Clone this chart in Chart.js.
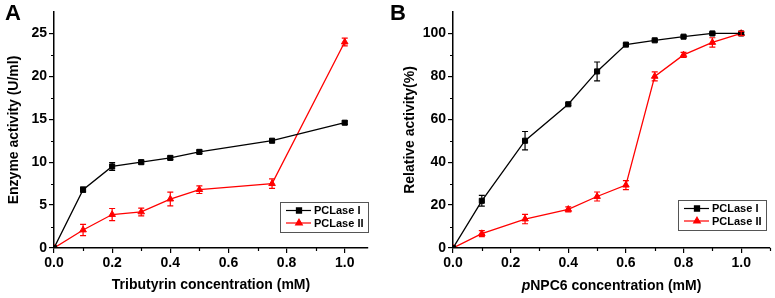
<!DOCTYPE html>
<html>
<head>
<meta charset="utf-8">
<script src="https://cdn.jsdelivr.net/npm/chart.js@4.4.1/dist/chart.umd.min.js"></script>
<style>
  body { margin: 0; background: #fff; }
  #wrap { position: relative; width: 775px; height: 298px; }
  .panel { position: absolute; top: 0; }
</style>
</head>
<body>
<div id="wrap">
  <div class="panel" style="left:0"><canvas id="chartA" width="387" height="298"></canvas></div>
  <div class="panel" style="left:387px"><canvas id="chartB" width="388" height="298"></canvas></div>
</div>
<script>
// ---- panel A: tributyrin ----
var concA = [0, 0.1, 0.2, 0.3, 0.4, 0.5, 0.75, 1.0];
var pclase1A = [0, 6.8, 9.5, 10.0, 10.5, 11.2, 12.5, 14.6];
var pclase1AErr = [0, 0.3, 0.45, 0.2, 0.2, 0.2, 0.15, 0.2];
var pclase2A = [0, 2.1, 3.9, 4.2, 5.7, 6.8, 7.5, 24.0];
var pclase2AErr = [0, 0.65, 0.7, 0.45, 0.8, 0.45, 0.55, 0.45];
var xTicksA = [0, 0.2, 0.4, 0.6, 0.8, 1.0];
var xMinorA = [0.1, 0.3, 0.5, 0.7, 0.9];
var yTicksA = [0, 5, 10, 15, 20, 25];
var yMinorA = [2.5, 7.5, 12.5, 17.5, 22.5];

// ---- panel B: pNPC6 ----
var concB = [0, 0.1, 0.25, 0.4, 0.5, 0.6, 0.7, 0.8, 0.9, 1.0];
var pclase1B = [0, 22, 50, 67, 82.3, 94.8, 96.8, 98.5, 100, 100];
var pclase1BErr = [0, 2.5, 4.3, 0.5, 4.4, 0.5, 0.5, 0.5, 0.5, 0.5];
var pclase2B = [0, 6.7, 13.5, 18, 24, 29.3, 80, 90, 95.8, 100];
var pclase2BErr = [0, 1.4, 2.2, 1.2, 2.1, 2.1, 2.1, 1.2, 2.2, 1.0];
var xTicksB = [0, 0.2, 0.4, 0.6, 0.8, 1.0];
var xMinorB = [0.1, 0.3, 0.5, 0.7, 0.9, 1.1];
var yTicksB = [0, 20, 40, 60, 80, 100];
var yMinorB = [10, 30, 50, 70, 90];

var seriesNames = ['PCLase I', 'PCLase II'];
var FONT = "'Liberation Sans', Arial, sans-serif";

// error bars, minor ticks, boxed legend, panel letter
var extras = {
  id: 'extras',
  afterDatasetsDraw: function(chart) {
    var ctx = chart.ctx;
    var ys = chart.scales.y;
    chart.data.datasets.forEach(function(ds, di) {
      var meta = chart.getDatasetMeta(di);
      ctx.save();
      ctx.strokeStyle = ds.borderColor;
      ctx.lineWidth = 1.2;
      meta.data.forEach(function(pt, i) {
        var e = ds.errors[i];
        if (!e) return;
        var v = ds.data[i].y;
        var top = ys.getPixelForValue(v + e);
        var bot = ys.getPixelForValue(v - e);
        ctx.beginPath();
        ctx.moveTo(pt.x, top); ctx.lineTo(pt.x, bot);
        ctx.moveTo(pt.x - 3, top); ctx.lineTo(pt.x + 3, top);
        ctx.moveTo(pt.x - 3, bot); ctx.lineTo(pt.x + 3, bot);
        ctx.stroke();
      });
      ctx.restore();
    });
  },
  afterDraw: function(chart, args, opts) {
    var ctx = chart.ctx;
    var area = chart.chartArea;
    var xs = chart.scales.x, ys = chart.scales.y;
    ctx.save();
    ctx.strokeStyle = '#000';
    ctx.lineWidth = 1.2;
    ctx.beginPath();
    opts.minorX.forEach(function(v) {
      var px = Math.round(xs.getPixelForValue(v)) + 0.5;
      ctx.moveTo(px, area.bottom); ctx.lineTo(px, area.bottom + 3);
    });
    opts.minorY.forEach(function(v) {
      var py = Math.round(ys.getPixelForValue(v)) + 0.5;
      ctx.moveTo(area.left - 3, py); ctx.lineTo(area.left, py);
    });
    ctx.stroke();

    // panel letter
    ctx.fillStyle = '#000';
    ctx.font = 'bold 22px ' + FONT;
    ctx.textBaseline = 'top';
    ctx.textAlign = 'left';
    ctx.fillText(opts.letter, opts.letterX, 3);

    // x title with optional italic prefix
    if (opts.xTitle) {
      var f1 = 'italic bold 14px ' + FONT, f2 = 'bold 14px ' + FONT;
      ctx.font = f1; var w1 = ctx.measureText(opts.xTitle[0]).width;
      ctx.font = f2; var w2 = ctx.measureText(opts.xTitle[1]).width;
      var x0 = (area.left + area.right) / 2 - (w1 + w2) / 2;
      ctx.textBaseline = 'middle';
      ctx.font = f1; ctx.fillText(opts.xTitle[0], x0, 286);
      ctx.font = f2; ctx.fillText(opts.xTitle[1], x0 + w1, 286);
    }

    // legend box
    var lg = opts.legend;
    var R = area.right - lg.right, B = area.bottom - lg.bottom;
    var L = R - 88, T = B - 30;
    ctx.lineWidth = 1;
    ctx.strokeStyle = '#555';
    ctx.fillStyle = '#fff';
    ctx.fillRect(L, T, 88, 30);
    ctx.strokeRect(L + 0.5, T + 0.5, 88, 30);
    ctx.font = 'bold 11px ' + FONT;
    ctx.textBaseline = 'middle';
    chart.data.datasets.forEach(function(ds, i) {
      var y = T + 8.5 + i * 12.5;
      ctx.strokeStyle = ds.borderColor;
      ctx.fillStyle = ds.backgroundColor;
      ctx.lineWidth = 1.2;
      ctx.beginPath(); ctx.moveTo(L + 6, y); ctx.lineTo(L + 31, y); ctx.stroke();
      Chart.helpers.drawPoint(ctx, { pointStyle: ds.pointStyle, radius: ds.pointRadius, borderWidth: 1 }, L + 19, y);
      ctx.fillStyle = '#000';
      ctx.fillText(ds.label, L + 34, y + 0.5);
    });
    ctx.restore();
  }
};

function toPts(xs, ys) {
  return xs.map(function(x, i) { return { x: x, y: ys[i] }; });
}

function makeChart(id, cfg) {
  var tickFont = { family: FONT, size: 14, weight: 'bold' };
  return new Chart(document.getElementById(id), {
    type: 'line',
    data: {
      datasets: [
        {
          label: seriesNames[0],
          data: toPts(cfg.x, cfg.s1),
          errors: cfg.e1,
          borderColor: '#000', backgroundColor: '#000',
          borderWidth: 1.3, pointStyle: 'rect', pointRadius: 3.6,
          pointBorderWidth: 1
        },
        {
          label: seriesNames[1],
          data: toPts(cfg.x, cfg.s2),
          errors: cfg.e2,
          borderColor: '#ff0000', backgroundColor: '#ff0000',
          borderWidth: 1.3, pointStyle: 'triangle', pointRadius: 3.8,
          pointBorderWidth: 1
        }
      ]
    },
    options: {
      responsive: false,
      animation: false,
      layout: { padding: { left: 0, top: 12, right: cfg.padRight, bottom: 0 } },
      plugins: {
        legend: { display: false },
        tooltip: { enabled: false },
        extras: cfg.extras
      },
      scales: {
        x: {
          type: 'linear', min: 0, max: cfg.xMax,
          afterBuildTicks: function(s) { s.ticks = cfg.xTicks.map(function(v) { return { value: v }; }); },
          afterFit: function(s) { s.height = 50; },
          ticks: { font: tickFont, color: '#000', padding: 2, callback: function(v) { return v.toFixed(1); } },
          grid: { drawOnChartArea: false, tickLength: 5, color: '#000', lineWidth: 1.2 },
          border: { color: '#000', width: 1.5 },
          title: {
            display: !!cfg.xTitle, text: cfg.xTitle || '', color: '#000',
            font: { family: FONT, size: 14, weight: 'bold' }, padding: { top: 0, bottom: 4 }
          }
        },
        y: {
          type: 'linear', min: 0, max: cfg.yMax,
          afterBuildTicks: function(s) { s.ticks = cfg.yTicks.map(function(v) { return { value: v }; }); },
          afterFit: function(s) { s.width = cfg.yWidth; },
          ticks: { font: tickFont, color: '#000', padding: 2 },
          grid: { drawOnChartArea: false, tickLength: 5, color: '#000', lineWidth: 1.2 },
          border: { color: '#000', width: 1.5 },
          title: {
            display: true, text: cfg.yTitle, color: '#000',
            font: { family: FONT, size: 14, weight: 'bold' }, padding: { top: cfg.yTitlePad, bottom: 0 }
          }
        }
      }
    },
    plugins: [extras]
  });
}

makeChart('chartA', {
  x: concA, s1: pclase1A, e1: pclase1AErr, s2: pclase2A, e2: pclase2AErr,
  xMax: 1.08, yMax: 27.5, xTicks: xTicksA, yTicks: yTicksA,
  yWidth: 54, padRight: 19, yTitlePad: 6,
  xTitle: 'Tributyrin concentration (mM)',
  yTitle: 'Enzyme activity (U/ml)',
  extras: { minorX: xMinorA, minorY: yMinorA, letter: 'A', letterX: 5, legend: { right: 0, bottom: 16 } }
});

makeChart('chartB', {
  x: concB, s1: pclase1B, e1: pclase1BErr, s2: pclase2B, e2: pclase2BErr,
  xMax: 1.1, yMax: 110, xTicks: xTicksB, yTicks: yTicksB,
  yWidth: 66, padRight: 3, yTitlePad: 15,
  xTitle: null,
  yTitle: 'Relative activity(%)',
  extras: { minorX: xMinorB, minorY: yMinorB, letter: 'B', letterX: 3, xTitle: ['p', 'NPC6 concentration (mM)'], legend: { right: 4, bottom: 18 } }
});
</script>
</body>
</html>
